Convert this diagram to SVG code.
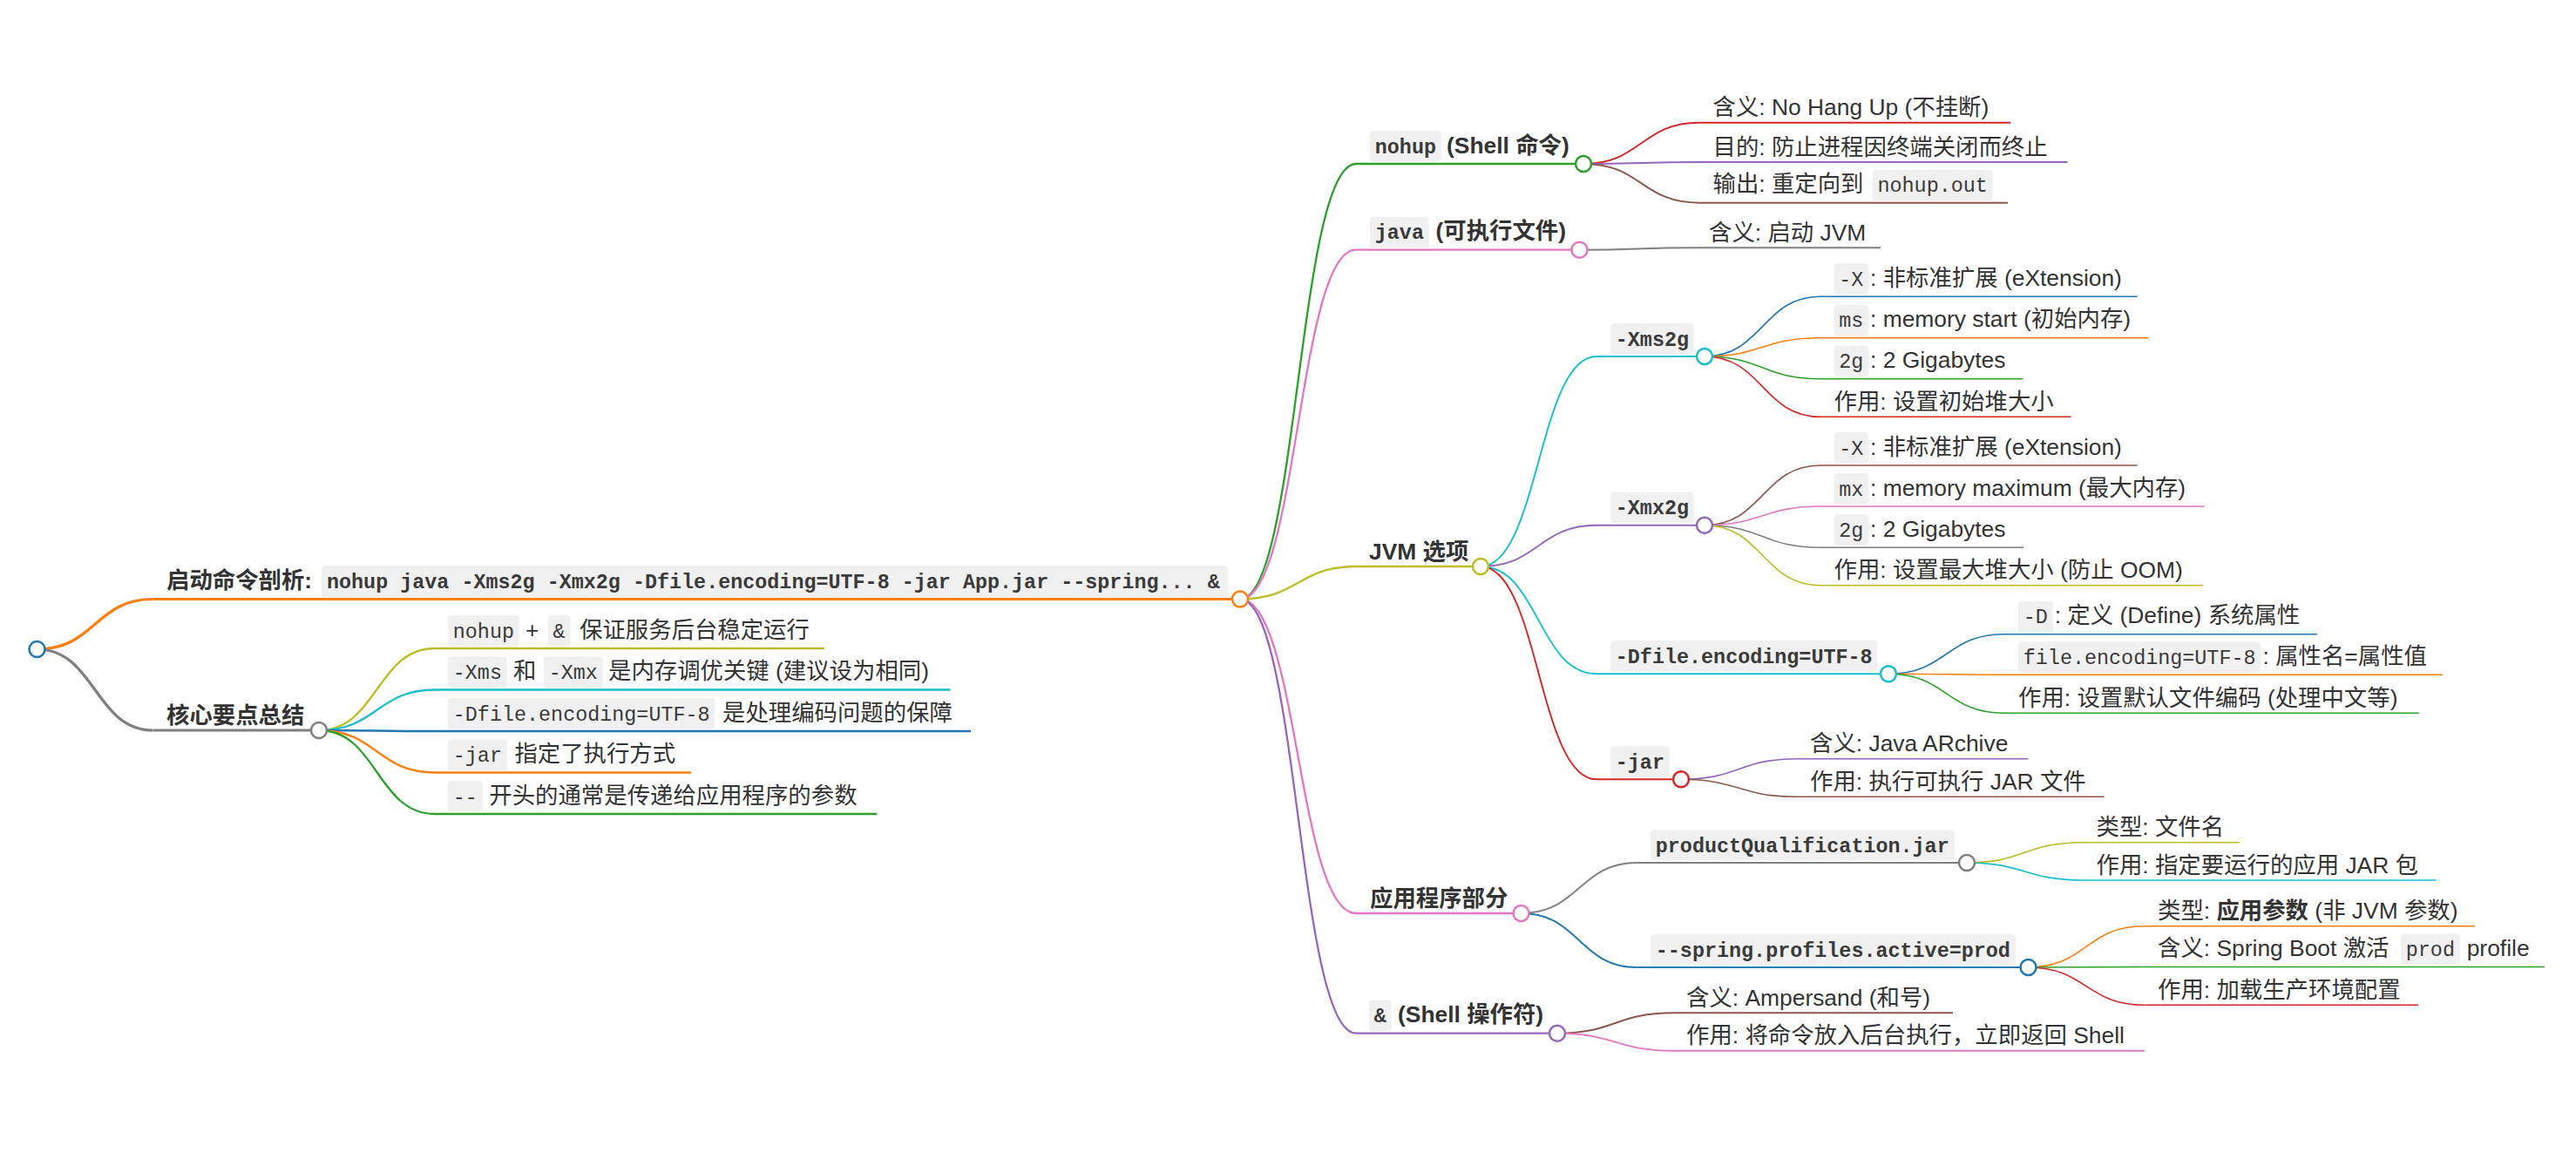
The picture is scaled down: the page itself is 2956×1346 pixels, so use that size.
<svg xmlns="http://www.w3.org/2000/svg" width="2956" height="1346" viewBox="0 0 2956 1346">
<style>
.t{font-family:"Liberation Sans","Noto Sans CJK SC",sans-serif;font-size:26.4px;fill:#333}
.b{font-weight:bold}
.c{font-family:"Liberation Mono","Noto Sans CJK SC",monospace;font-size:23.4px;fill:#3a3a3a}
.cb{fill:#f0f0f0}
.dot{fill:#fff;stroke-width:2.5}
.lk{fill:none}
.w1{stroke-width:3.2}.w2{stroke-width:2.3}.w3{stroke-width:1.9}.w4{stroke-width:1.6}
.blue{stroke:#1f77b4}.orange{stroke:#ff7f0e}.green{stroke:#2ca02c}.red{stroke:#d62728}.purple{stroke:#9467bd}.brown{stroke:#8c564b}.pink{stroke:#e377c2}.gray{stroke:#7f7f7f}.olive{stroke:#bcbd22}.cyan{stroke:#17becf}
</style>
<rect width="2956" height="1346" fill="#fff"/>
<g id="connectors" class="lk">
<path class="w1 orange" d="M42.5,745C109,745 109,687.5 175.5,687.5"/>
<path class="w1 gray" d="M42.5,745C109,745 109,838 175.5,838"/>
<path class="w2 olive" d="M366,838C432.5,838 432.5,744 499,744"/>
<path class="w2 cyan" d="M366,838C432.5,838 432.5,791.5 499,791.5"/>
<path class="w2 blue" d="M366,838C432.5,838 432.5,839 499,839"/>
<path class="w2 orange" d="M366,838C432.5,838 432.5,886.5 499,886.5"/>
<path class="w2 green" d="M366,838C432.5,838 432.5,934 499,934"/>
<path class="w2 green" d="M1423,687.5C1489.5,687.5 1489.5,188 1556,188"/>
<path class="w2 pink" d="M1423,687.5C1489.5,687.5 1489.5,286.7 1556,286.7"/>
<path class="w2 olive" d="M1423,687.5C1489.5,687.5 1489.5,650 1556,650"/>
<path class="w2 pink" d="M1423,687.5C1489.5,687.5 1489.5,1048 1556,1048"/>
<path class="w2 purple" d="M1423,687.5C1489.5,687.5 1489.5,1185.7 1556,1185.7"/>
<path class="w3 red" d="M1817,188C1883.5,188 1883.5,140.7 1950,140.7"/>
<path class="w3 purple" d="M1817,188C1883.5,188 1883.5,186 1950,186"/>
<path class="w3 brown" d="M1817,188C1883.5,188 1883.5,232.7 1950,232.7"/>
<path class="w3 gray" d="M1812.5,286.7C1879,286.7 1879,284.3 1945.5,284.3"/>
<path class="w3 cyan" d="M1699,650C1765.5,650 1765.5,409 1832,409"/>
<path class="w3 purple" d="M1699,650C1765.5,650 1765.5,602.7 1832,602.7"/>
<path class="w3 cyan" d="M1699,650C1765.5,650 1765.5,773.3 1832,773.3"/>
<path class="w3 red" d="M1699,650C1765.5,650 1765.5,894.3 1832,894.3"/>
<path class="w4 blue" d="M1956,409C2022.5,409 2022.5,340.3 2089,340.3"/>
<path class="w4 orange" d="M1956,409C2022.5,409 2022.5,387.7 2089,387.7"/>
<path class="w4 green" d="M1956,409C2022.5,409 2022.5,434.7 2089,434.7"/>
<path class="w4 red" d="M1956,409C2022.5,409 2022.5,478.3 2089,478.3"/>
<path class="w4 brown" d="M1956,602.7C2022.5,602.7 2022.5,534 2089,534"/>
<path class="w4 pink" d="M1956,602.7C2022.5,602.7 2022.5,581 2089,581"/>
<path class="w4 gray" d="M1956,602.7C2022.5,602.7 2022.5,628.3 2089,628.3"/>
<path class="w4 olive" d="M1956,602.7C2022.5,602.7 2022.5,671.7 2089,671.7"/>
<path class="w4 blue" d="M2167,773.3C2233.5,773.3 2233.5,727.7 2300,727.7"/>
<path class="w4 orange" d="M2167,773.3C2233.5,773.3 2233.5,774.3 2300,774.3"/>
<path class="w4 green" d="M2167,773.3C2233.5,773.3 2233.5,818.3 2300,818.3"/>
<path class="w4 purple" d="M1929,894.3C1995.5,894.3 1995.5,870.7 2062,870.7"/>
<path class="w4 brown" d="M1929,894.3C1995.5,894.3 1995.5,914.3 2062,914.3"/>
<path class="w3 gray" d="M1745.5,1048C1812,1048 1812,990 1878.5,990"/>
<path class="w3 blue" d="M1745.5,1048C1812,1048 1812,1110 1878.5,1110"/>
<path class="w4 olive" d="M2257,990C2323.5,990 2323.5,966.7 2390,966.7"/>
<path class="w4 cyan" d="M2257,990C2323.5,990 2323.5,1010 2390,1010"/>
<path class="w4 orange" d="M2327.5,1110C2394,1110 2394,1062.7 2460.5,1062.7"/>
<path class="w4 green" d="M2327.5,1110C2394,1110 2394,1109.5 2460.5,1109.5"/>
<path class="w4 red" d="M2327.5,1110C2394,1110 2394,1153.3 2460.5,1153.3"/>
<path class="w3 brown" d="M1787,1185.7C1853.5,1185.7 1853.5,1162.3 1920,1162.3"/>
<path class="w3 pink" d="M1787,1185.7C1853.5,1185.7 1853.5,1205.7 1920,1205.7"/>
</g>
<g id="root"><circle class="dot blue" cx="42.5" cy="745" r="9"/></g>
<g id="n-cmd">
<line class="w1 orange" x1="175.5" y1="687.5" x2="1423" y2="687.5"/>
<text class="t b" x="191" y="675">启动命令剖析:</text>
<rect class="cb" x="369" y="649.5" width="1040" height="36" rx="4"/>
<text class="c b" x="375" y="675">nohup java -Xms2g -Xmx2g -Dfile.encoding=UTF-8 -jar App.jar --spring... &amp;</text>
<circle class="dot orange" cx="1423" cy="687.5" r="9"/>
</g>
<g id="n-summary">
<line class="w1 gray" x1="175.5" y1="838" x2="366" y2="838"/>
<text class="t b" x="191" y="829.5">核心要点总结</text>
<circle class="dot gray" cx="366" cy="838" r="9"/>
</g>
<g id="n-s1">
<line class="w2 olive" x1="499" y1="744" x2="946" y2="744"/>
<rect class="cb" x="514" y="706" width="81.8" height="35.5" rx="4"/>
<text class="c" x="519.8" y="731.5">nohup</text>
<text class="t" x="603" y="731.5">+</text>
<rect class="cb" x="628.7" y="706" width="25.6" height="35.5" rx="4"/>
<text class="c" x="634.5" y="731.5">&amp;</text>
<text class="t" x="665" y="731.5">保证服务后台稳定运行</text>
</g>
<g id="n-s2">
<line class="w2 cyan" x1="499" y1="791.5" x2="1090.5" y2="791.5"/>
<rect class="cb" x="514" y="753.5" width="67.8" height="35.5" rx="4"/>
<text class="c" x="519.8" y="779">-Xms</text>
<text class="t" x="589" y="779">和</text>
<rect class="cb" x="623.9" y="753.5" width="67.8" height="35.5" rx="4"/>
<text class="c" x="629.7" y="779">-Xmx</text>
<text class="t" x="698" y="779">是内存调优关键 (建议设为相同)</text>
</g>
<g id="n-s3">
<line class="w2 blue" x1="499" y1="839" x2="1114" y2="839"/>
<rect class="cb" x="514" y="801" width="306.4" height="35.5" rx="4"/>
<text class="c" x="519.8" y="826.5">-Dfile.encoding=UTF-8</text>
<text class="t" x="829" y="826.5">是处理编码问题的保障</text>
</g>
<g id="n-s4">
<line class="w2 orange" x1="499" y1="886.5" x2="793" y2="886.5"/>
<rect class="cb" x="514" y="848.5" width="67.8" height="35.5" rx="4"/>
<text class="c" x="519.8" y="874">-jar</text>
<text class="t" x="590.4" y="874">指定了执行方式</text>
</g>
<g id="n-s5">
<line class="w2 green" x1="499" y1="934" x2="1006" y2="934"/>
<rect class="cb" x="514" y="896" width="39.7" height="35.5" rx="4"/>
<text class="c" x="519.8" y="921.5">--</text>
<text class="t" x="561.3" y="921.5">开头的通常是传递给应用程序的参数</text>
</g>
<g id="n-nohup">
<line class="w2 green" x1="1556" y1="188" x2="1817" y2="188"/>
<rect class="cb" x="1572" y="150" width="81.8" height="35.5" rx="4"/>
<text class="c b" x="1577.8" y="175.5">nohup</text>
<text class="t b" x="1660" y="175.5">(Shell 命令)</text>
<circle class="dot green" cx="1817" cy="188" r="9"/>
</g>
<g id="n-nohup-1">
<line class="w3 red" x1="1950" y1="140.7" x2="2307" y2="140.7"/>
<text class="t" x="1965.5" y="132.2">含义: No Hang Up (不挂断)</text>
</g>
<g id="n-nohup-2">
<line class="w3 purple" x1="1950" y1="186" x2="2372.5" y2="186"/>
<text class="t" x="1965.5" y="177.5">目的: 防止进程因终端关闭而终止</text>
</g>
<g id="n-nohup-3">
<line class="w3 brown" x1="1950" y1="232.7" x2="2304" y2="232.7"/>
<text class="t" x="1965.5" y="220.2">输出: 重定向到</text>
<rect class="cb" x="2148.7" y="194.7" width="137.9" height="35.5" rx="4"/>
<text class="c" x="2154.5" y="220.2">nohup.out</text>
</g>
<g id="n-java">
<line class="w2 pink" x1="1556" y1="286.7" x2="1812.5" y2="286.7"/>
<rect class="cb" x="1572" y="248.7" width="67.8" height="35.5" rx="4"/>
<text class="c b" x="1577.8" y="274.2">java</text>
<text class="t b" x="1647.5" y="274.2">(可执行文件)</text>
<circle class="dot pink" cx="1812.5" cy="286.7" r="9"/>
</g>
<g id="n-java-1">
<line class="w3 gray" x1="1945.5" y1="284.3" x2="2158" y2="284.3"/>
<text class="t" x="1961" y="275.8">含义: 启动 JVM</text>
</g>
<g id="n-jvm">
<line class="w2 olive" x1="1556" y1="650" x2="1699" y2="650"/>
<text class="t b" x="1571" y="641.5">JVM 选项</text>
<circle class="dot olive" cx="1699" cy="650" r="9"/>
</g>
<g id="n-xms">
<line class="w3 cyan" x1="1832" y1="409" x2="1956" y2="409"/>
<rect class="cb" x="1848" y="371" width="95.8" height="35.5" rx="4"/>
<text class="c b" x="1853.8" y="396.5">-Xms2g</text>
<circle class="dot cyan" cx="1956" cy="409" r="9"/>
</g>
<g id="n-xms-1">
<line class="w4 blue" x1="2089" y1="340.3" x2="2452.7" y2="340.3"/>
<rect class="cb" x="2104.5" y="302.3" width="39.7" height="35.5" rx="4"/>
<text class="c" x="2110.3" y="327.8">-X</text>
<text class="t" x="2146" y="327.8">: 非标准扩展 (eXtension)</text>
</g>
<g id="n-xms-2">
<line class="w4 orange" x1="2089" y1="387.7" x2="2465.7" y2="387.7"/>
<rect class="cb" x="2104.5" y="349.7" width="39.7" height="35.5" rx="4"/>
<text class="c" x="2110.3" y="375.2">ms</text>
<text class="t" x="2146" y="375.2">: memory start (初始内存)</text>
</g>
<g id="n-xms-3">
<line class="w4 green" x1="2089" y1="434.7" x2="2321" y2="434.7"/>
<rect class="cb" x="2104.5" y="396.7" width="39.7" height="35.5" rx="4"/>
<text class="c" x="2110.3" y="422.2">2g</text>
<text class="t" x="2146" y="422.2">: 2 Gigabytes</text>
</g>
<g id="n-xms-4">
<line class="w4 red" x1="2089" y1="478.3" x2="2376.6" y2="478.3"/>
<text class="t" x="2104.5" y="469.8">作用: 设置初始堆大小</text>
</g>
<g id="n-xmx">
<line class="w3 purple" x1="1832" y1="602.7" x2="1956" y2="602.7"/>
<rect class="cb" x="1848" y="564.7" width="95.8" height="35.5" rx="4"/>
<text class="c b" x="1853.8" y="590.2">-Xmx2g</text>
<circle class="dot purple" cx="1956" cy="602.7" r="9"/>
</g>
<g id="n-xmx-1">
<line class="w4 brown" x1="2089" y1="534" x2="2452.7" y2="534"/>
<rect class="cb" x="2104.5" y="496" width="39.7" height="35.5" rx="4"/>
<text class="c" x="2110.3" y="521.5">-X</text>
<text class="t" x="2146" y="521.5">: 非标准扩展 (eXtension)</text>
</g>
<g id="n-xmx-2">
<line class="w4 pink" x1="2089" y1="581" x2="2530" y2="581"/>
<rect class="cb" x="2104.5" y="543" width="39.7" height="35.5" rx="4"/>
<text class="c" x="2110.3" y="568.5">mx</text>
<text class="t" x="2146" y="568.5">: memory maximum (最大内存)</text>
</g>
<g id="n-xmx-3">
<line class="w4 gray" x1="2089" y1="628.3" x2="2322" y2="628.3"/>
<rect class="cb" x="2104.5" y="590.3" width="39.7" height="35.5" rx="4"/>
<text class="c" x="2110.3" y="615.8">2g</text>
<text class="t" x="2146" y="615.8">: 2 Gigabytes</text>
</g>
<g id="n-xmx-4">
<line class="w4 olive" x1="2089" y1="671.7" x2="2528" y2="671.7"/>
<text class="t" x="2104.5" y="663.2">作用: 设置最大堆大小 (防止 OOM)</text>
</g>
<g id="n-dfile">
<line class="w3 cyan" x1="1832" y1="773.3" x2="2167" y2="773.3"/>
<rect class="cb" x="1848" y="735.3" width="306.4" height="35.5" rx="4"/>
<text class="c b" x="1853.8" y="760.8">-Dfile.encoding=UTF-8</text>
<circle class="dot cyan" cx="2167" cy="773.3" r="9"/>
</g>
<g id="n-dfile-1">
<line class="w4 blue" x1="2300" y1="727.7" x2="2659" y2="727.7"/>
<rect class="cb" x="2316" y="689.7" width="39.7" height="35.5" rx="4"/>
<text class="c" x="2321.8" y="715.2">-D</text>
<text class="t" x="2357.7" y="715.2">: 定义 (Define) 系统属性</text>
</g>
<g id="n-dfile-2">
<line class="w4 orange" x1="2300" y1="774.3" x2="2803" y2="774.3"/>
<rect class="cb" x="2316" y="736.3" width="278.4" height="35.5" rx="4"/>
<text class="c" x="2321.8" y="761.8">file.encoding=UTF-8</text>
<text class="t" x="2596.5" y="761.8">: 属性名=属性值</text>
</g>
<g id="n-dfile-3">
<line class="w4 green" x1="2300" y1="818.3" x2="2775.7" y2="818.3"/>
<text class="t" x="2316" y="809.8">作用: 设置默认文件编码 (处理中文等)</text>
</g>
<g id="n-jar">
<line class="w3 red" x1="1832" y1="894.3" x2="1929" y2="894.3"/>
<rect class="cb" x="1848" y="856.3" width="67.8" height="35.5" rx="4"/>
<text class="c b" x="1853.8" y="881.8">-jar</text>
<circle class="dot red" cx="1929" cy="894.3" r="9"/>
</g>
<g id="n-jar-1">
<line class="w4 purple" x1="2062" y1="870.7" x2="2327.4" y2="870.7"/>
<text class="t" x="2077" y="862.2">含义: Java ARchive</text>
</g>
<g id="n-jar-2">
<line class="w4 brown" x1="2062" y1="914.3" x2="2414.5" y2="914.3"/>
<text class="t" x="2077" y="905.8">作用: 执行可执行 JAR 文件</text>
</g>
<g id="n-app">
<line class="w2 pink" x1="1556" y1="1048" x2="1745.5" y2="1048"/>
<text class="t b" x="1572" y="1039.5">应用程序部分</text>
<circle class="dot pink" cx="1745.5" cy="1048" r="9"/>
</g>
<g id="n-pq">
<line class="w3 gray" x1="1878.5" y1="990" x2="2257" y2="990"/>
<rect class="cb" x="1894" y="952" width="348.6" height="35.5" rx="4"/>
<text class="c b" x="1899.8" y="977.5">productQualification.jar</text>
<circle class="dot gray" cx="2257" cy="990" r="9"/>
</g>
<g id="n-pq-1">
<line class="w4 olive" x1="2390" y1="966.7" x2="2570" y2="966.7"/>
<text class="t" x="2405.5" y="958.2">类型: 文件名</text>
</g>
<g id="n-pq-2">
<line class="w4 cyan" x1="2390" y1="1010" x2="2795.5" y2="1010"/>
<text class="t" x="2405.5" y="1001.5">作用: 指定要运行的应用 JAR 包</text>
</g>
<g id="n-spring">
<line class="w3 blue" x1="1878.5" y1="1110" x2="2327.5" y2="1110"/>
<rect class="cb" x="1894" y="1072" width="418.8" height="35.5" rx="4"/>
<text class="c b" x="1899.8" y="1097.5">--spring.profiles.active=prod</text>
<circle class="dot blue" cx="2327.5" cy="1110" r="9"/>
</g>
<g id="n-spring-1">
<line class="w4 orange" x1="2460.5" y1="1062.7" x2="2840" y2="1062.7"/>
<text class="t" x="2476" y="1054.2">类型: <tspan class="b">应用参数</tspan> (非 JVM 参数)</text>
</g>
<g id="n-spring-2">
<line class="w4 green" x1="2460.5" y1="1109.5" x2="2920" y2="1109.5"/>
<text class="t" x="2476" y="1097">含义: Spring Boot 激活</text>
<rect class="cb" x="2755" y="1071.5" width="67.8" height="35.5" rx="4"/>
<text class="c" x="2760.8" y="1097">prod</text>
<text class="t" x="2830.7" y="1097">profile</text>
</g>
<g id="n-spring-3">
<line class="w4 red" x1="2460.5" y1="1153.3" x2="2775" y2="1153.3"/>
<text class="t" x="2476" y="1144.8">作用: 加载生产环境配置</text>
</g>
<g id="n-amp">
<line class="w2 purple" x1="1556" y1="1185.7" x2="1787" y2="1185.7"/>
<rect class="cb" x="1571" y="1147.7" width="25.6" height="35.5" rx="4"/>
<text class="c b" x="1576.8" y="1173.2">&amp;</text>
<text class="t b" x="1604" y="1173.2">(Shell 操作符)</text>
<circle class="dot purple" cx="1787" cy="1185.7" r="9"/>
</g>
<g id="n-amp-1">
<line class="w3 brown" x1="1920" y1="1162.3" x2="2241" y2="1162.3"/>
<text class="t" x="1935" y="1153.8">含义: Ampersand (和号)</text>
</g>
<g id="n-amp-2">
<line class="w3 pink" x1="1920" y1="1205.7" x2="2461" y2="1205.7"/>
<text class="t" x="1935" y="1197.2">作用: 将命令放入后台执行，立即返回 Shell</text>
</g>
</svg>
